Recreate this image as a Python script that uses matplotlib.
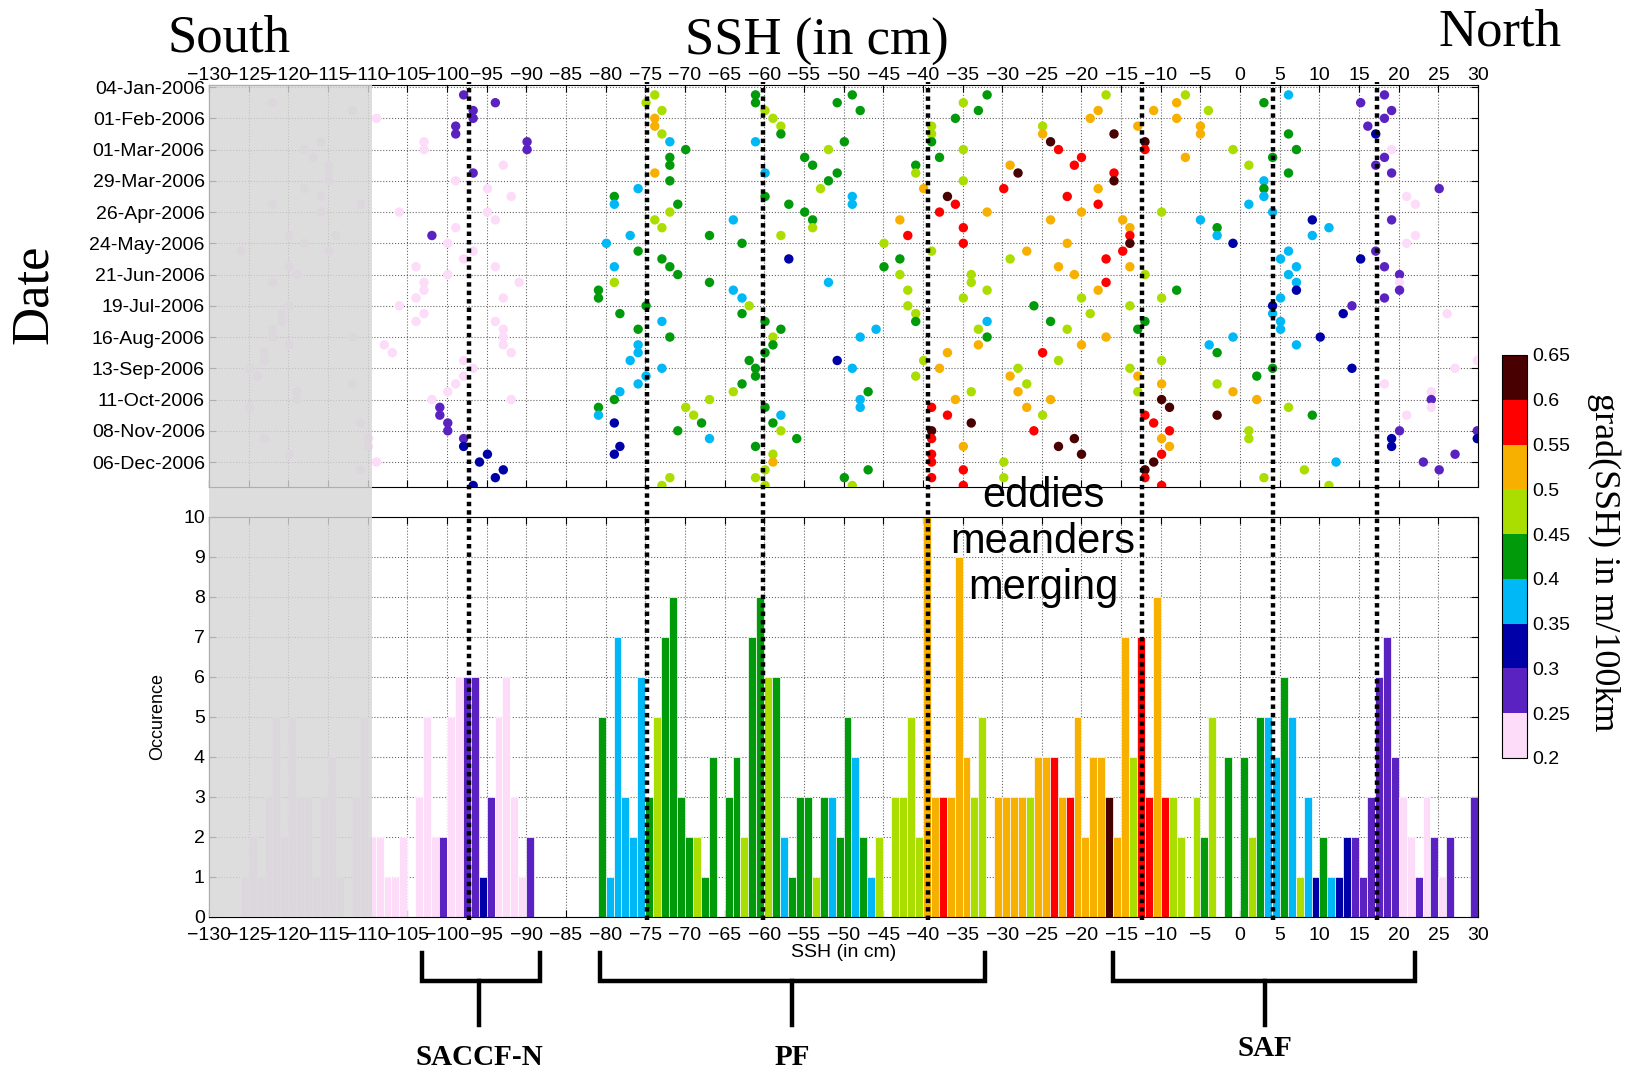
import numpy as np
import matplotlib
matplotlib.use('Agg')
import matplotlib.pyplot as plt
import matplotlib.transforms as mtransforms
from matplotlib.colors import ListedColormap, BoundaryNorm
from matplotlib.patches import Rectangle
from matplotlib.lines import Line2D

plt.rcParams['font.family'] = ['Liberation Sans', 'DejaVu Sans']

# ---------------------------------------------------------------- data
date_labels = ['04-Jan-2006', '01-Feb-2006', '01-Mar-2006', '29-Mar-2006',
               '26-Apr-2006', '24-May-2006', '21-Jun-2006', '19-Jul-2006',
               '16-Aug-2006', '13-Sep-2006', '11-Oct-2006', '08-Nov-2006',
               '06-Dec-2006']

grad_levels = [0.2, 0.25, 0.3, 0.35, 0.4, 0.45, 0.5, 0.55, 0.6, 0.65]
grad_colors = ['#fcdcf8', '#5b22c2', '#0000a8', '#00b8f5', '#009a0a',
               '#aade00', '#f8b000', '#ff0000', '#480000']

# front positions (SSH, cm) detected each week, row i = week i+1
ssh_by_week = [
    [-97.9, -73.8, -61.1, -48.9, -31.9, -16.9, -6.9, 6.1, 18.2],
    [-122, -93.9, -74.9, -61.1, -50.8, -34.9, -8.0, 3.0, 15.2],
    [-111.9, -96.7, -72.9, -59.9, -47.9, -33.0, -17.9, -10.9, -4.0, 19.1],
    [-108.9, -96.7, -73.8, -58.9, -35.9, -18.9, -8.0, 18.2],
    [-98.9, -73.8, -57.9, -38.9, -24.9, -12.9, -5.0, 16.1],
    [-98.9, -72.9, -57.9, -38.9, -24.9, -15.9, -5.0, 6.1, 17.1],
    [-115.9, -102.9, -89.9, -71.9, -61.1, -49.9, -38.9, -23.9, -12.0],
    [-118, -102.9, -89.9, -69.9, -51.9, -34.9, -22.9, -12.0, -0.9, 7.1, 19.1],
    [-116.9, -71.9, -54.9, -37.9, -20.0, -6.9, 4.1, 18.2],
    [-114.9, -92.9, -71.9, -53.9, -40.9, -29.0, -20.9, 1.1, 17.1],
    [-114.9, -96.7, -73.8, -59.9, -50.8, -40.9, -28.0, -15.9, 6.1, 19.1],
    [-114.9, -98.9, -71.9, -51.9, -34.9, -15.9, 3.0],
    [-118, -94.9, -75.9, -52.9, -39.9, -29.8, -17.9, 3.0, 25.1],
    [-115.9, -91.9, -78.9, -59.9, -48.9, -36.9, -21.8, 3.0, 21.0],
    [-122, -110.9, -78.9, -70.9, -56.9, -48.9, -35.9, -17.9, 1.1, 22.1],
    [-115.9, -106, -94.9, -71.9, -54.9, -37.9, -31.9, -20.0, -9.9, 4.1],
    [-93.9, -73.8, -63.9, -53.9, -42.9, -23.9, -14.8, -5.0, 9.1, 19.1],
    [-98.9, -72.9, -53.9, -34.9, -13.9, -2.9, 11.2],
    [-119.9, -114, -101.9, -76.9, -66.9, -57.9, -41.9, -13.9, -2.9, 9.1, 22.1],
    [-118, -99.9, -79.9, -62.8, -44.9, -34.9, -21.8, -13.9, -0.9, 21.0],
    [-126, -114.9, -96.7, -75.9, -38.9, -26.9, -14.8, 6.1, 17.1],
    [-97.9, -72.9, -56.9, -42.9, -29.0, -16.9, 5.1, 15.2],
    [-119.9, -103.9, -93.9, -78.9, -71.9, -44.9, -22.9, -13.9, 7.1, 18.2],
    [-118.9, -99.9, -70.9, -42.9, -33.9, -20.9, -12.0, 6.1, 20.1],
    [-122, -102.9, -90.9, -78.9, -66.9, -51.9, -33.9, -16.9, 7.1, 20.1],
    [-102.9, -80.9, -63.9, -41.9, -31.9, -17.9, -8.0, 7.1, 20.1],
    [-103.9, -92.9, -80.9, -62.8, -34.9, -20.0, -9.9, 5.1, 18.2],
    [-119.9, -106, -74.9, -61.9, -41.9, -26.0, -13.9, 4.1, 14.1],
    [-120.8, -102.9, -78.2, -62.8, -40.9, -18.9, 4.1, 13.0, 26.1],
    [-120.8, -103.9, -93.9, -72.9, -59.9, -40.9, -31.9, -23.9, -12.0, 5.1],
    [-122, -92.9, -75.9, -57.9, -45.9, -33.0, -21.8, -12.9, 5.1],
    [-122, -111.9, -92.9, -71.9, -58.9, -47.9, -31.9, -16.9, -0.9, 10.1],
    [-119.9, -107.9, -92.9, -75.9, -58.9, -33.0, -20.0, -3.9, 7.1],
    [-123, -106.9, -91.9, -75.9, -59.9, -36.9, -24.9, -2.9],
    [-123, -97.9, -76.9, -61.9, -50.8, -39.9, -22.9, -9.9, 29.9],
    [-124.9, -96.7, -72.9, -61.1, -48.9, -37.9, -28.0, -13.9, 4.1, 14.1, 27.1],
    [-123.9, -97.9, -74.9, -61.1, -40.9, -29.0, -12.9, 2.1],
    [-111.9, -98.9, -75.9, -62.8, -26.9, -9.9, -2.9, 18.2],
    [-118.9, -99.9, -78.2, -63.9, -46.9, -33.9, -28.0, -12.9, -0.9, 24.1],
    [-118.9, -101.9, -91.9, -78.9, -66.9, -47.9, -35.9, -23.9, -9.9, 2.1, 24.1],
    [-124.9, -100.9, -80.9, -69.9, -59.9, -47.9, -38.9, -26.9, -8.9, 6.1, 24.1],
    [-100.9, -80.9, -68.9, -57.9, -36.9, -24.9, -12.0, -2.9, 9.1, 21.0],
    [-110.9, -99.9, -78.9, -67.9, -58.9, -33.9, -10.9],
    [-99.9, -70.9, -57.9, -38.9, -26.0, -8.9, 1.1, 20.1, 29.9],
    [-123, -109.9, -97.9, -66.9, -55.9, -38.9, -20.9, -9.9, 1.1, 19.1, 29.9],
    [-109.9, -97.9, -78.2, -61.1, -34.9, -22.9, -8.9, 19.1],
    [-119.9, -94.9, -78.9, -58.9, -38.9, -20.0, -9.9, 27.1],
    [-108.9, -95.9, -58.9, -38.9, -29.8, -10.9, 12.1, 23.1],
    [-110.9, -92.9, -59.9, -46.9, -34.9, -12.0, 8.1, 25.1],
    [-93.9, -71.9, -61.1, -49.9, -38.9, -29.8, -12.0, 3.0],
    [-96.7, -72.9, -59.9, -48.9, -34.9, -9.9, 11.2],
]

# gradient of SSH at each detected front (m/100km), same layout
grad_by_week = [
    [.27, .47, .42, .42, .42, .47, .47, .37, .27],
    [.22, .27, .47, .42, .42, .47, .52, .42, .27],
    [.22, .27, .47, .47, .42, .42, .52, .52, .47, .27],
    [.22, .27, .52, .47, .42, .52, .52, .27],
    [.27, .52, .47, .47, .47, .52, .52, .27],
    [.27, .47, .42, .47, .52, .62, .52, .42, .32],
    [.22, .22, .27, .37, .37, .42, .42, .62, .62],
    [.22, .22, .27, .42, .47, .47, .57, .57, .47, .42, .22],
    [.22, .42, .42, .42, .57, .52, .42, .27],
    [.22, .22, .42, .42, .42, .52, .57, .47, .27],
    [.22, .27, .52, .37, .42, .47, .62, .57, .42, .27],
    [.22, .22, .42, .42, .47, .62, .37],
    [.22, .22, .37, .47, .52, .57, .52, .42, .27],
    [.22, .22, .42, .42, .37, .62, .57, .37, .22],
    [.22, .22, .37, .42, .42, .37, .57, .57, .37, .22],
    [.22, .22, .22, .47, .42, .57, .52, .52, .47, .37],
    [.22, .47, .37, .42, .52, .52, .52, .37, .32, .27],
    [.22, .47, .47, .57, .52, .42, .37],
    [.22, .22, .27, .37, .42, .47, .57, .57, .37, .37, .22],
    [.22, .22, .37, .42, .47, .57, .52, .62, .32, .22],
    [.22, .22, .22, .42, .47, .52, .57, .37, .27],
    [.22, .42, .32, .42, .47, .57, .37, .32],
    [.22, .22, .22, .37, .42, .42, .52, .52, .37, .27],
    [.22, .22, .42, .47, .47, .52, .47, .37, .27],
    [.22, .22, .22, .47, .42, .37, .47, .57, .37, .22],
    [.22, .42, .37, .47, .47, .52, .42, .32, .27],
    [.22, .22, .42, .37, .47, .47, .47, .37, .27],
    [.22, .22, .42, .47, .47, .42, .47, .32, .27],
    [.22, .22, .42, .42, .47, .47, .37, .32, .22],
    [.22, .22, .22, .37, .42, .42, .37, .42, .42, .37],
    [.22, .22, .42, .42, .37, .47, .47, .42, .37],
    [.22, .22, .22, .42, .47, .37, .42, .52, .37, .32],
    [.22, .22, .22, .37, .42, .52, .52, .37, .37],
    [.22, .22, .22, .37, .42, .52, .57, .42],
    [.22, .22, .37, .42, .32, .47, .47, .47, .22],
    [.22, .22, .37, .42, .37, .52, .47, .47, .42, .32, .22],
    [.22, .22, .37, .42, .47, .52, .52, .42],
    [.22, .22, .37, .42, .47, .52, .47, .22],
    [.22, .22, .37, .47, .42, .47, .52, .47, .52, .22],
    [.22, .22, .22, .42, .47, .37, .52, .52, .62, .52, .27],
    [.22, .27, .42, .47, .42, .37, .57, .52, .62, .47, .22],
    [.27, .37, .47, .37, .57, .47, .57, .62, .42, .22],
    [.22, .27, .32, .42, .42, .62, .57],
    [.27, .42, .47, .62, .57, .57, .47, .27, .27],
    [.22, .22, .27, .37, .42, .57, .62, .52, .47, .32, .32],
    [.22, .32, .32, .42, .52, .62, .52, .32],
    [.22, .32, .32, .47, .57, .62, .57, .27],
    [.22, .32, .52, .57, .47, .62, .37, .27],
    [.22, .32, .47, .42, .57, .62, .47, .27],
    [.32, .47, .47, .42, .57, .47, .57, .47],
    [.32, .47, .47, .47, .57, .57, .47],
]

# histogram: 1 cm bins (left edge), occurrence and mean gradient
hist_left = [-126, -125, -124, -123, -122, -121, -120, -119, -118, -117,
             -116, -115, -114, -112, -111, -110, -109, -108, -107, -106,
             -104, -103, -102, -101, -100, -99, -98, -97, -96, -95,
             -94, -93, -92, -91, -90,
             -81, -80, -79, -78, -77, -76, -75, -74, -73, -72,
             -71, -70, -69, -68, -67,
             -65, -64, -63, -62, -61, -60, -59, -58, -57, -56,
             -55, -54, -53, -52, -51, -50, -49, -48, -47, -46,
             -44, -43, -42, -41, -40, -39, -38, -37, -36, -35,
             -34, -33,
             -31, -30, -29, -28, -27, -26, -25, -24, -23, -22,
             -21, -20, -19, -18, -17, -16, -15, -14, -13, -12,
             -11, -10, -9, -8,
             -6, -5, -4, -2, 0, 1, 2, 3, 4, 5,
             6, 7, 8, 9, 10, 11, 12, 13, 14, 15,
             16, 17, 18, 19, 20, 21, 22, 23, 24, 25,
             26, 29]
hist_count = [1, 2, 1, 3, 5, 2, 5, 3, 3, 1,
              3, 4, 1, 3, 5, 2, 2, 1, 1, 2,
              3, 5, 2, 2, 5, 6, 6, 6, 1, 3,
              5, 6, 3, 1, 2,
              5, 1, 7, 3, 2, 6, 3, 5, 7, 8,
              3, 2, 2, 1, 4,
              3, 4, 2, 7, 8, 6, 6, 2, 1, 3,
              3, 1, 3, 3, 2, 5, 4, 2, 1, 2,
              3, 3, 5, 2, 10, 3, 3, 3, 9, 4,
              3, 5,
              3, 3, 3, 3, 3, 4, 4, 4, 3, 3,
              5, 2, 4, 4, 3, 2, 7, 4, 7, 3,
              8, 3, 3, 2,
              3, 2, 5, 4, 4, 2, 5, 5, 4, 6,
              5, 1, 3, 1, 2, 1, 1, 2, 2, 1,
              3, 6, 7, 4, 3, 2, 1, 3, 2, 1,
              2, 3]
hist_grad = [.22, .22, .22, .22, .22, .22, .22, .22, .22, .22,
             .22, .22, .22, .22, .22, .22, .22, .22, .22, .22,
             .22, .22, .22, .27, .22, .22, .27, .27, .32, .27,
             .22, .22, .22, .22, .27,
             .42, .37, .37, .37, .37, .37, .42, .47, .42, .42,
             .42, .42, .47, .42, .42,
             .42, .42, .47, .42, .42, .47, .42, .37, .42, .42,
             .42, .47, .42, .37, .42, .42, .37, .42, .37, .47,
             .47, .47, .47, .47, .52, .52, .57, .52, .52, .52,
             .47, .47,
             .52, .52, .52, .52, .47, .52, .52, .57, .52, .57,
             .52, .52, .52, .52, .62, .52, .52, .47, .57, .57,
             .52, .57, .47, .47,
             .47, .42, .47, .42, .42, .47, .42, .37, .37, .42,
             .37, .47, .37, .32, .42, .37, .32, .32, .27, .27,
             .27, .27, .27, .27, .22, .22, .27, .22, .27, .22,
             .27, .27]

# mean front positions (dotted lines)
front_ssh = [-97.2, -74.8, -60.2, -39.4, -12.4, 4.1, 17.2]

# front groups shown with brackets
group_names = ['SACCF-N', 'PF', 'SAF']
group_span = [(-103.1, -88.3), (-80.7, -32.2), (-16.0, 22.1)]
group_mid = [-95.9, -56.5, 3.1]

mask_limit = -109.5  # south of this the record is masked (grey)

# ---------------------------------------------------------------- figure
fig = plt.figure(figsize=(16.28, 10.73), dpi=100)
ax_top = fig.add_axes([0.1284, 0.5461, 0.7795, 0.3747])
ax_bot = fig.add_axes([0.1284, 0.1454, 0.7795, 0.3728])
cax = fig.add_axes([0.9226, 0.2936, 0.0154, 0.3756])

cmap = ListedColormap(grad_colors)
norm = BoundaryNorm(grad_levels, cmap.N)

weeks = np.concatenate([[i + 1] * len(r) for i, r in enumerate(ssh_by_week)])
ssh = np.concatenate(ssh_by_week)
grads = np.concatenate(grad_by_week)

ax_top.scatter(ssh, weeks, c=grads, cmap=cmap, norm=norm, s=46,
               linewidths=0, zorder=3)
ax_top.set_xlim(-130, 30)
ax_top.set_ylim(51.2, -0.27)
ax_top.set_xticks(np.arange(-130, 31, 5))
ax_top.set_yticks(np.arange(0, 49, 4))
ax_top.set_yticklabels(date_labels)
ax_top.tick_params(axis='x', top=True, bottom=True, labeltop=True,
                   labelbottom=False, pad=1)
ax_top.tick_params(axis='y', left=True, right=True, pad=3)

ax_bot.bar(hist_left, hist_count, width=1, align='edge',
           color=cmap(norm(hist_grad)), edgecolor='white', linewidth=0.5,
           zorder=2)
ax_bot.set_xlim(-130, 30)
ax_bot.set_ylim(0, 10)
ax_bot.set_xticks(np.arange(-130, 31, 5))
ax_bot.set_yticks(np.arange(0, 11, 1))
ax_bot.tick_params(axis='x', top=True, bottom=True, pad=7)
ax_bot.tick_params(axis='y', left=True, right=True, pad=3)
ax_bot.set_xlabel('SSH (in cm)', fontsize=14, labelpad=0)
ax_bot.set_ylabel('Occurence', fontsize=13, labelpad=12)

for ax in (ax_top, ax_bot):
    ax.tick_params(direction='in', length=5, width=0.8, labelsize=14)
    ax.grid(True, linestyle=':', color='k', linewidth=0.8, alpha=0.6)
    ax.set_axisbelow(True)
    for sp in ax.spines.values():
        sp.set_linewidth(0.8)

# masked southern part (grey veil across both panels)
blend_top = mtransforms.blended_transform_factory(ax_top.transData,
                                                  fig.transFigure)
fig.add_artist(Rectangle((-130, 0.1454), mask_limit + 130, 0.9208 - 0.1454,
                         transform=blend_top, facecolor='#d6d6d6',
                         edgecolor='none', alpha=0.82, zorder=5))

# dotted front lines across both panels
for v in front_ssh:
    fig.add_artist(Line2D([v, v], [0.1426, 0.9236], transform=blend_top,
                          color='k', linewidth=3.2,
                          linestyle=(0, (1, 0.9)), zorder=6))

# brackets and front names below
blend_bot = mtransforms.blended_transform_factory(ax_bot.transData,
                                                  fig.transFigure)
label_y = [0.0149, 0.0149, 0.0224]
for name, (a, b), m, ly in zip(group_names, group_span, group_mid, label_y):
    fig.add_artist(Line2D([a, a, b, b], [0.1118, 0.0857, 0.0857, 0.1118],
                          transform=blend_bot, color='k', linewidth=3.2,
                          solid_joinstyle='miter', zorder=6))
    fig.add_artist(Line2D([m, m], [0.0857, 0.0447], transform=blend_bot,
                          color='k', linewidth=3.2, zorder=6))
    fig.text(m, ly, name, transform=blend_bot, ha='center', va='center',
             fontsize=21, fontweight='bold', family='Liberation Serif')

# titles
serif = 'Liberation Serif'
fig.text(0.141, 0.964, 'South', fontsize=38, family=serif,
         ha='center', va='center')
fig.text(0.502, 0.961, 'SSH (in cm)', fontsize=38, family=serif,
         ha='center', va='center')
fig.text(0.9215, 0.970, 'North', fontsize=38, family=serif,
         ha='center', va='center')
fig.text(0.021, 0.726, 'Date', fontsize=38, family=serif, rotation=90,
         ha='center', va='center')
fig.text(0.6407, 0.4949, 'eddies\nmeanders\nmerging', fontsize=30,
         ha='center', va='center', linespacing=1.2, zorder=7)

# colorbar
sm = plt.cm.ScalarMappable(cmap=cmap, norm=norm)
cb = fig.colorbar(sm, cax=cax, ticks=grad_levels)
cb.ax.set_yticklabels(['%g' % t for t in grad_levels])
cb.ax.tick_params(labelsize=14, length=0, pad=4)
cb.outline.set_linewidth(0.8)
fig.text(0.9853, 0.4764, 'grad(SSH) in m/100km', fontsize=26, family=serif,
         rotation=270, ha='center', va='center')

fig.savefig('out.png', dpi=100)
